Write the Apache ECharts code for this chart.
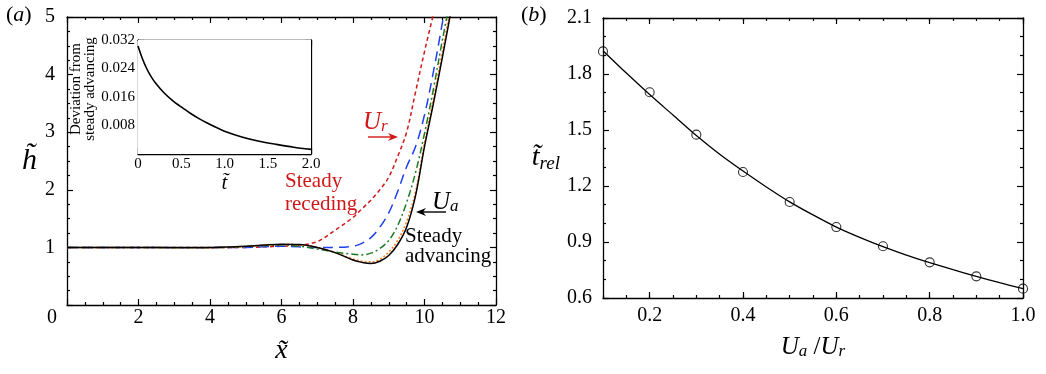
<!DOCTYPE html>
<html>
<head>
<meta charset="utf-8">
<script src="https://cdn.jsdelivr.net/npm/echarts@6/dist/echarts.min.js"></script>
<style>
  html, body { margin: 0; padding: 0; background: #fff; }
  #chart { width: 1046px; height: 374px; }
</style>
</head>
<body>
<div id="chart"></div>
<script>
// ---- values ----

// panel (a): film height profiles h~ against x~
const profileX    = [0, 1, 2, 3, 4, 4.5, 5, 5.5, 6, 6.5, 7, 7.5, 8, 8.25, 8.5, 8.75, 9, 9.25, 9.5, 9.75, 10, 10.25, 10.5, 10.75];
const hReceding   = [1, 1, 1, 1, 1, 1, 1, 1.01, 1.02, 1.04, 1.1, 1.3, 1.52, 1.67, 1.82, 2.0, 2.22, 2.58, 3.0, 3.7, 4.4, 5.05, null, null];
const hBlue       = [1, 1, 1, 0.995, 0.995, 1, 1, 1.01, 1.02, 1.01, 1, 1, 1.02, 1.07, 1.17, 1.35, 1.6, 1.97, 2.4, 2.75, 3.3, 4.05, 4.9, 5.8];
const hGreen      = [1, 1, 1, 0.995, 0.995, 1, 1.015, 1.03, 1.04, 1.02, 0.97, 0.92, 0.88, 0.87, 0.9, 0.98, 1.12, 1.38, 1.78, 2.3, 2.98, 3.75, 4.6, 5.4];
const hOrange     = [1, 1, 1, 0.995, 0.995, 1, 1.015, 1.035, 1.05, 1.045, 1, 0.91, 0.8, 0.76, 0.75, 0.79, 0.92, 1.12, 1.45, 1.97, 2.82, 3.58, 4.4, 5.25];
const hAdvancing  = [1, 1, 1, 1, 1, 1.005, 1.02, 1.04, 1.055, 1.05, 1.0, 0.91, 0.78, 0.74, 0.72, 0.76, 0.86, 1.05, 1.35, 1.9, 2.75, 3.5, 4.3, 5.13];

// inset: deviation from steady advancing against t~
const insetT   = [0, 0.05, 0.1, 0.15, 0.2, 0.3, 0.4, 0.5, 0.6, 0.7, 0.8, 0.9, 1.0, 1.2, 1.4, 1.6, 1.8, 2.0];
const insetDev = [0.0303, 0.0268, 0.0240, 0.0218, 0.0200, 0.0172, 0.0150, 0.0132, 0.0115, 0.0100, 0.0087, 0.0075, 0.0064, 0.0048, 0.0036, 0.0027, 0.0019, 0.0013];

// panel (b): relaxation time against Ua/Ur
const ratioPts = [0.1, 0.2, 0.3, 0.4, 0.5, 0.6, 0.7, 0.8, 0.9, 1.0];
const trelPts  = [1.921, 1.702, 1.475, 1.275, 1.114, 0.980, 0.877, 0.791, 0.716, 0.650];
const fitRatio = [0.1, 0.15, 0.2, 0.25, 0.3, 0.35, 0.4, 0.45, 0.5, 0.55, 0.6, 0.65, 0.7, 0.75, 0.8, 0.85, 0.9, 0.95, 1.0];
const fitTrel  = [1.925, 1.805, 1.69, 1.58, 1.47, 1.37, 1.28, 1.195, 1.115, 1.045, 0.98, 0.925, 0.875, 0.83, 0.79, 0.752, 0.716, 0.682, 0.65];

// ---- helpers ----
const FONT = '"Liberation Serif", "DejaVu Serif", serif';
const RED = '#d01818';

function pairs(xs, ys) {
  return xs.map((x, i) => [x, ys[i]]).filter(p => p[1] !== null);
}

// value axis with inward major + minor ticks, no labels by default
function valueAxis(gridIndex, position, range, extra) {
  return Object.assign({
    type: 'value',
    gridIndex: gridIndex,
    position: position,
    min: range[0],
    max: range[1],
    interval: range[2],
    axisLine: { show: true, onZero: false, lineStyle: { color: '#000', width: 1.3 } },
    axisTick: { show: true, inside: true, length: 6, lineStyle: { color: '#000', width: 1.2 } },
    minorTick: { show: range[3] > 1, splitNumber: range[3], length: 3, lineStyle: { color: '#000', width: 1.2 } },
    splitLine: { show: false },
    minorSplitLine: { show: false },
    axisLabel: { show: false }
  }, extra || {});
}

function tickLabel(size, margin, formatter, rich) {
  return {
    show: true, color: '#000', fontFamily: FONT, fontSize: size,
    margin: margin, formatter: formatter, rich: rich
  };
}

function arrow(x1, y1, x2, y2, color) {
  const dir = Math.sign(x2 - x1);
  return {
    type: 'group',
    children: [
      { type: 'line', shape: { x1: x1, y1: y1, x2: x2 - dir * 4, y2: y2 }, style: { stroke: color, lineWidth: 1.4 } },
      { type: 'polygon', shape: { points: [[x2, y2], [x2 - dir * 10, y2 - 4], [x2 - dir * 7, y2], [x2 - dir * 10, y2 + 4]] }, style: { fill: color } }
    ]
  };
}

const subRich = {
  u: { fontFamily: FONT, fontStyle: 'italic', fontSize: 25, lineHeight: 26 },
  s: { fontFamily: FONT, fontStyle: 'italic', fontSize: 17, lineHeight: 14, verticalAlign: 'bottom' },
  n: { fontFamily: FONT, fontSize: 25, lineHeight: 26 }
};

const profileSeries = [
  { data: hReceding, color: RED, type: [4, 3] },
  { data: hBlue, color: '#1f3ff0', type: [10, 6] },
  { data: hGreen, color: '#1d7a24', type: [7, 3, 2, 3] },
  { data: hOrange, color: '#ff7a1a', type: [2, 2] },
  { data: hAdvancing, color: '#000', type: 'solid' }
].map(s => ({
  type: 'line',
  xAxisIndex: 0,
  yAxisIndex: 0,
  data: pairs(profileX, s.data),
  smooth: 0.35,
  showSymbol: false,
  clip: true,
  lineStyle: { color: s.color, width: 1.5, type: s.type }
}));

const chart = echarts.init(document.getElementById('chart'), null, { renderer: 'canvas' });

chart.setOption({
  animation: false,
  backgroundColor: '#fff',
  grid: [
    { left: 67, top: 17, width: 429, height: 288 },
    { left: 138, top: 40, width: 173, height: 114, show: true, backgroundColor: '#fff', borderWidth: 0, z: 3 },
    { left: 603, top: 18, width: 420, height: 280 }
  ],
  xAxis: [
    // (a)
    valueAxis(0, 'bottom', [0, 12, 2, 4], {
      axisLabel: tickLabel(20, 3, v => (v === 0 ? '{z|0}' : String(v)), { z: { fontFamily: FONT, fontSize: 20, padding: [0, 30, 0, 0] } }),
      name: 'x\u0303', nameLocation: 'middle', nameGap: 32,
      nameTextStyle: { fontFamily: FONT, fontStyle: 'italic', fontSize: 28, color: '#000' }
    }),
    valueAxis(0, 'top', [0, 12, 2, 4]),
    // inset
    valueAxis(1, 'bottom', [0, 2, 0.5, 2], {
      axisLabel: tickLabel(15, 3, v => (v === 0 ? '0' : v.toFixed(1))),
      name: 't\u0303', nameLocation: 'middle', nameGap: 17,
      nameTextStyle: { fontFamily: FONT, fontStyle: 'italic', fontSize: 21, color: '#000' }
    }),
    valueAxis(1, 'top', [0, 2, 0.5, 2]),
    // (b): minor ticks every 0.05, labels at 0.2 steps
    valueAxis(2, 'bottom', [0.1, 1.0, 0.05, 1], {
      axisTick: { show: true, inside: true, length: 3, lineStyle: { color: '#000', width: 1.2 } },
      axisLabel: tickLabel(20, 8, v => (Math.abs(v * 5 - Math.round(v * 5)) < 1e-6 ? v.toFixed(1) : '')),
      name: '{u|U}{s|a}{n| /}{u|U}{s|r}', nameLocation: 'middle', nameGap: 36,
      nameTextStyle: { color: '#000', rich: subRich }
    }),
    valueAxis(2, 'bottom', [0.1, 1.0, 0.05, 1], {
      axisLine: { show: false },
      axisTick: { show: true, inside: true, length: 6, customValues: [0.2, 0.4, 0.6, 0.8, 1.0], lineStyle: { color: '#000', width: 1.2 } }
    }),
    valueAxis(2, 'top', [0.1, 1.0, 0.05, 1], {
      axisTick: { show: true, inside: true, length: 3, lineStyle: { color: '#000', width: 1.2 } }
    }),
    valueAxis(2, 'top', [0.1, 1.0, 0.05, 1], {
      axisLine: { show: false },
      axisTick: { show: true, inside: true, length: 6, customValues: [0.2, 0.4, 0.6, 0.8, 1.0], lineStyle: { color: '#000', width: 1.2 } }
    })
  ],
  yAxis: [
    // (a)
    valueAxis(0, 'left', [0, 5, 1, 4], {
      axisLabel: tickLabel(20, 12, v => (v === 0 ? '' : String(v))),
      name: 'h\u0303', nameLocation: 'middle', nameGap: 30, nameRotate: 0,
      nameTextStyle: { fontFamily: FONT, fontStyle: 'italic', fontSize: 30, color: '#000' }
    }),
    valueAxis(0, 'right', [0, 5, 1, 4]),
    // inset
    valueAxis(1, 'left', [0, 0.032, 0.008, 2], {
      axisLabel: tickLabel(15, 3, v => (v === 0 ? '' : v.toFixed(3))),
      name: 'Deviation from\nsteady advancing', nameLocation: 'middle', nameGap: 40, nameRotate: 90,
      nameTextStyle: { fontFamily: FONT, fontSize: 15, lineHeight: 14, color: '#000', padding: [0, 0, 0, 16] }
    }),
    valueAxis(1, 'right', [0, 0.032, 0.008, 2]),
    // (b)
    valueAxis(2, 'left', [0.6, 2.1, 0.3, 3], {
      axisLabel: tickLabel(20, 11, v => v.toFixed(1)),
      name: '{u|t\u0303}{s|rel}', nameLocation: 'middle', nameGap: 43, nameRotate: 0,
      nameTextStyle: { color: '#000', rich: { u: { fontFamily: FONT, fontStyle: 'italic', fontSize: 28, lineHeight: 30 }, s: { fontFamily: FONT, fontStyle: 'italic', fontSize: 19, lineHeight: 16, verticalAlign: 'bottom' } } }
    }),
    valueAxis(2, 'right', [0.6, 2.1, 0.3, 3])
  ],
  series: profileSeries.concat([
    {
      type: 'line', xAxisIndex: 2, yAxisIndex: 2, z: 4,
      data: pairs(insetT, insetDev), smooth: 0.3, showSymbol: false,
      lineStyle: { color: '#000', width: 1.6 }
    },
    {
      type: 'line', xAxisIndex: 4, yAxisIndex: 4,
      data: pairs(fitRatio, fitTrel), smooth: 0.3, showSymbol: false,
      lineStyle: { color: '#000', width: 1.3 }
    },
    {
      type: 'scatter', xAxisIndex: 4, yAxisIndex: 4,
      data: pairs(ratioPts, trelPts), symbol: 'circle', symbolSize: 9,
      itemStyle: { color: 'rgba(255,255,255,0)', borderColor: '#000', borderWidth: 1.1 }
    }
  ]),
  graphic: [
    { type: 'text', left: 6, top: 4, style: { text: '{n|(}{i|a}{n|)}', rich: { n: { fontFamily: FONT, fontSize: 22 }, i: { fontFamily: FONT, fontSize: 22, fontStyle: 'italic' } } } },
    { type: 'text', left: 521, top: 4, style: { text: '{n|(}{i|b}{n|)}', rich: { n: { fontFamily: FONT, fontSize: 22 }, i: { fontFamily: FONT, fontSize: 22, fontStyle: 'italic' } } } },
    { type: 'text', x: 285, y: 170, style: { text: 'Steady\nreceding', fill: RED, font: '21px "Liberation Serif", serif', lineHeight: 23 } },
    { type: 'text', x: 405, y: 226, style: { text: 'Steady\nadvancing', fill: '#000', font: '21px "Liberation Serif", serif', lineHeight: 20 } },
    { type: 'text', x: 363, y: 109, style: { text: '{u|U}{s|r}', fill: RED, rich: subRich } },
    { type: 'text', x: 432, y: 189, style: { text: '{u|U}{s|a}', fill: '#000', rich: subRich } },
    arrow(368, 137, 398, 137, RED),
    arrow(446, 212, 416, 212, '#000')
  ]
});
</script>
</body>
</html>
